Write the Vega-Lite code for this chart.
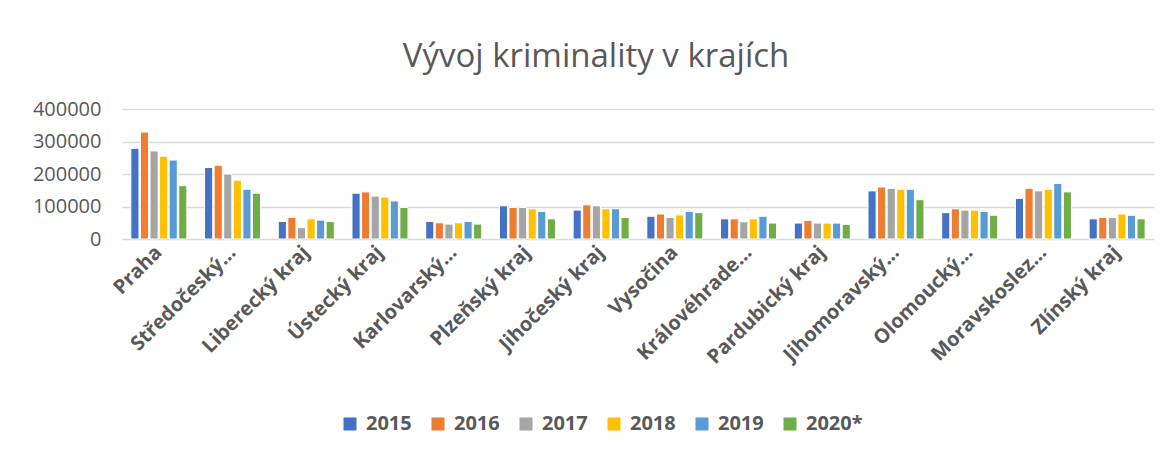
{
  "$schema": "https://vega.github.io/schema/vega-lite/v6.json",
  "autosize": {"type": "none"},
  "width": 1032,
  "height": 130,
  "padding": {"left": 122, "top": 109, "right": 19, "bottom": 215},
  "background": "white",
  "title": {
    "text": "Vývoj kriminality v krajích",
    "font": "Open Sans",
    "fontSize": 33,
    "fontWeight": "normal",
    "color": "#595959",
    "anchor": "middle",
    "frame": "group",
    "baseline": "alphabetic",
    "dx": -42,
    "dy": 41,
    "offset": 40
  },
  "config": {
    "view": {"stroke": null},
    "font": "Open Sans"
  },
  "data": {
    "values": [
      {"kraj": "Praha", "rok": "2015", "pocet": 279000},
      {"kraj": "Praha", "rok": "2016", "pocet": 329000},
      {"kraj": "Praha", "rok": "2017", "pocet": 271000},
      {"kraj": "Praha", "rok": "2018", "pocet": 255000},
      {"kraj": "Praha", "rok": "2019", "pocet": 243000},
      {"kraj": "Praha", "rok": "2020*", "pocet": 164000},
      {"kraj": "Středočeský…", "rok": "2015", "pocet": 220000},
      {"kraj": "Středočeský…", "rok": "2016", "pocet": 227000},
      {"kraj": "Středočeský…", "rok": "2017", "pocet": 200000},
      {"kraj": "Středočeský…", "rok": "2018", "pocet": 181000},
      {"kraj": "Středočeský…", "rok": "2019", "pocet": 153000},
      {"kraj": "Středočeský…", "rok": "2020*", "pocet": 141000},
      {"kraj": "Liberecký kraj", "rok": "2015", "pocet": 54000},
      {"kraj": "Liberecký kraj", "rok": "2016", "pocet": 67000},
      {"kraj": "Liberecký kraj", "rok": "2017", "pocet": 35000},
      {"kraj": "Liberecký kraj", "rok": "2018", "pocet": 62000},
      {"kraj": "Liberecký kraj", "rok": "2019", "pocet": 58000},
      {"kraj": "Liberecký kraj", "rok": "2020*", "pocet": 54000},
      {"kraj": "Ústecký kraj", "rok": "2015", "pocet": 141000},
      {"kraj": "Ústecký kraj", "rok": "2016", "pocet": 145000},
      {"kraj": "Ústecký kraj", "rok": "2017", "pocet": 132000},
      {"kraj": "Ústecký kraj", "rok": "2018", "pocet": 129000},
      {"kraj": "Ústecký kraj", "rok": "2019", "pocet": 117000},
      {"kraj": "Ústecký kraj", "rok": "2020*", "pocet": 97000},
      {"kraj": "Karlovarský…", "rok": "2015", "pocet": 54000},
      {"kraj": "Karlovarský…", "rok": "2016", "pocet": 50000},
      {"kraj": "Karlovarský…", "rok": "2017", "pocet": 46000},
      {"kraj": "Karlovarský…", "rok": "2018", "pocet": 50000},
      {"kraj": "Karlovarský…", "rok": "2019", "pocet": 54000},
      {"kraj": "Karlovarský…", "rok": "2020*", "pocet": 46000},
      {"kraj": "Plzeňský kraj", "rok": "2015", "pocet": 102000},
      {"kraj": "Plzeňský kraj", "rok": "2016", "pocet": 97000},
      {"kraj": "Plzeňský kraj", "rok": "2017", "pocet": 97000},
      {"kraj": "Plzeňský kraj", "rok": "2018", "pocet": 93000},
      {"kraj": "Plzeňský kraj", "rok": "2019", "pocet": 85000},
      {"kraj": "Plzeňský kraj", "rok": "2020*", "pocet": 62000},
      {"kraj": "Jihočeský kraj", "rok": "2015", "pocet": 89000},
      {"kraj": "Jihočeský kraj", "rok": "2016", "pocet": 105000},
      {"kraj": "Jihočeský kraj", "rok": "2017", "pocet": 102000},
      {"kraj": "Jihočeský kraj", "rok": "2018", "pocet": 93000},
      {"kraj": "Jihočeský kraj", "rok": "2019", "pocet": 93000},
      {"kraj": "Jihočeský kraj", "rok": "2020*", "pocet": 66000},
      {"kraj": "Vysočina", "rok": "2015", "pocet": 70000},
      {"kraj": "Vysočina", "rok": "2016", "pocet": 77000},
      {"kraj": "Vysočina", "rok": "2017", "pocet": 66000},
      {"kraj": "Vysočina", "rok": "2018", "pocet": 74000},
      {"kraj": "Vysočina", "rok": "2019", "pocet": 85000},
      {"kraj": "Vysočina", "rok": "2020*", "pocet": 81000},
      {"kraj": "Královéhrade…", "rok": "2015", "pocet": 62000},
      {"kraj": "Královéhrade…", "rok": "2016", "pocet": 62000},
      {"kraj": "Královéhrade…", "rok": "2017", "pocet": 53000},
      {"kraj": "Královéhrade…", "rok": "2018", "pocet": 62000},
      {"kraj": "Královéhrade…", "rok": "2019", "pocet": 70000},
      {"kraj": "Královéhrade…", "rok": "2020*", "pocet": 49000},
      {"kraj": "Pardubický kraj", "rok": "2015", "pocet": 49000},
      {"kraj": "Pardubický kraj", "rok": "2016", "pocet": 57000},
      {"kraj": "Pardubický kraj", "rok": "2017", "pocet": 49000},
      {"kraj": "Pardubický kraj", "rok": "2018", "pocet": 49000},
      {"kraj": "Pardubický kraj", "rok": "2019", "pocet": 49000},
      {"kraj": "Pardubický kraj", "rok": "2020*", "pocet": 45000},
      {"kraj": "Jihomoravský…", "rok": "2015", "pocet": 148000},
      {"kraj": "Jihomoravský…", "rok": "2016", "pocet": 160000},
      {"kraj": "Jihomoravský…", "rok": "2017", "pocet": 156000},
      {"kraj": "Jihomoravský…", "rok": "2018", "pocet": 153000},
      {"kraj": "Jihomoravský…", "rok": "2019", "pocet": 153000},
      {"kraj": "Jihomoravský…", "rok": "2020*", "pocet": 121000},
      {"kraj": "Olomoucký…", "rok": "2015", "pocet": 81000},
      {"kraj": "Olomoucký…", "rok": "2016", "pocet": 93000},
      {"kraj": "Olomoucký…", "rok": "2017", "pocet": 89000},
      {"kraj": "Olomoucký…", "rok": "2018", "pocet": 89000},
      {"kraj": "Olomoucký…", "rok": "2019", "pocet": 85000},
      {"kraj": "Olomoucký…", "rok": "2020*", "pocet": 73000},
      {"kraj": "Moravskoslez…", "rok": "2015", "pocet": 125000},
      {"kraj": "Moravskoslez…", "rok": "2016", "pocet": 156000},
      {"kraj": "Moravskoslez…", "rok": "2017", "pocet": 148000},
      {"kraj": "Moravskoslez…", "rok": "2018", "pocet": 153000},
      {"kraj": "Moravskoslez…", "rok": "2019", "pocet": 171000},
      {"kraj": "Moravskoslez…", "rok": "2020*", "pocet": 145000},
      {"kraj": "Zlínský kraj", "rok": "2015", "pocet": 62000},
      {"kraj": "Zlínský kraj", "rok": "2016", "pocet": 66000},
      {"kraj": "Zlínský kraj", "rok": "2017", "pocet": 66000},
      {"kraj": "Zlínský kraj", "rok": "2018", "pocet": 77000},
      {"kraj": "Zlínský kraj", "rok": "2019", "pocet": 73000},
      {"kraj": "Zlínský kraj", "rok": "2020*", "pocet": 62000}
    ]
  },
  "mark": {"type": "bar", "stroke": "white", "strokeWidth": 1},
  "encoding": {
    "x": {
      "field": "kraj",
      "type": "nominal",
      "sort": null,
      "scale": {"paddingInner": 0.24, "paddingOuter": 0.12},
      "axis": {
        "title": null,
        "labelAngle": -45,
        "labelAlign": "right",
        "labelBaseline": "middle",
        "labelFont": "Open Sans",
        "labelFontSize": 20,
        "labelFontWeight": "bold",
        "labelColor": "#595959",
        "labelPadding": 10,
        "labelLimit": 250,
        "ticks": false,
        "domain": false
      }
    },
    "xOffset": {"field": "rok", "type": "nominal", "scale": {"paddingInner": 0.15}},
    "y": {
      "field": "pocet",
      "type": "quantitative",
      "scale": {"domain": [0, 400000]},
      "axis": {
        "title": null,
        "values": [0, 100000, 200000, 300000, 400000],
        "format": "d",
        "labelFont": "Open Sans",
        "labelFontSize": 20,
        "labelColor": "#595959",
        "labelPadding": 21,
        "ticks": false,
        "domain": false,
        "gridColor": "#d9d9d9",
        "gridWidth": 1.5
      }
    },
    "color": {
      "field": "rok",
      "type": "nominal",
      "scale": {
        "domain": ["2015", "2016", "2017", "2018", "2019", "2020*"],
        "range": ["#4472C4", "#ED7D31", "#A5A5A5", "#FFC000", "#5B9BD5", "#70AD47"]
      },
      "legend": {
        "title": null,
        "orient": "none",
        "direction": "horizontal",
        "legendX": 218,
        "legendY": 305,
        "symbolType": "square",
        "symbolSize": 169,
        "symbolStrokeWidth": 0,
        "labelFont": "Open Sans",
        "labelFontSize": 20,
        "labelFontWeight": "bold",
        "labelColor": "#595959",
        "columnPadding": 16,
        "labelOffset": 6
      }
    }
  }
}
